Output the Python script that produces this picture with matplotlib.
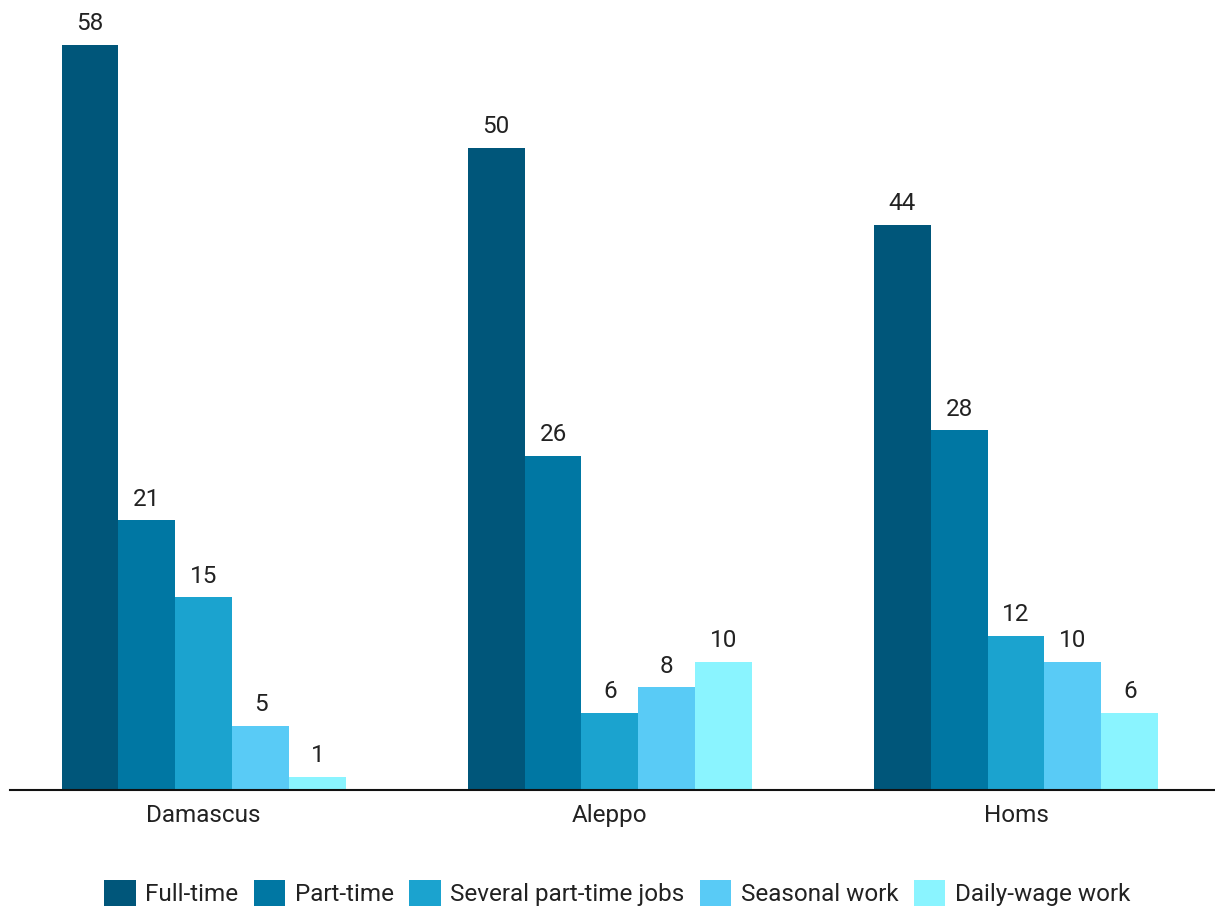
import numpy as np
import matplotlib.pyplot as plt

# Занятість за типом роботи у трьох містах (%)
cities = ['Damascus', 'Aleppo', 'Homs']
series = ['Full-time', 'Part-time', 'Several part-time jobs', 'Seasonal work', 'Daily-wage work']
full_time = [58, 50, 44]
part_time = [21, 26, 28]
several_jobs = [15, 6, 12]
seasonal = [5, 8, 10]
daily_wage = [1, 10, 6]
colors = ['#00567A', '#0077A3', '#1BA3CF', '#59CBF6', '#8AF4FF']

plt.rcParams['font.family'] = ['Roboto', 'DejaVu Sans']
FS = 17.5

fig = plt.figure(figsize=(12.15, 9.09), dpi=100)
ax = fig.add_axes([10 / 1215, 119 / 909, 1205 / 1215, 790 / 909])

values = [full_time, part_time, several_jobs, seasonal, daily_wage]
x = np.arange(len(cities))
width = 0.14

for i, (name, vals) in enumerate(zip(series, values)):
    pos = x + (i - 2) * width
    bars = ax.bar(pos, vals, width, color=colors[i], label=name)
    for b, v in zip(bars, vals):
        ax.annotate(str(v), (b.get_x() + b.get_width() / 2, v),
                    xytext=(0, 7), textcoords='offset points',
                    ha='center', va='bottom', fontsize=FS, color='#222222')

ax.set_xlim(-0.477, 2.49)
ax.set_ylim(0, 61.5)
ax.set_xticks(x)
ax.set_xticklabels(cities, fontsize=FS, color='#222222')
ax.tick_params(axis='x', length=0, pad=10)
ax.set_yticks([])
for s in ['top', 'right', 'left']:
    ax.spines[s].set_visible(False)
ax.spines['bottom'].set_linewidth(1.5)
ax.spines['bottom'].set_color('#111111')

fig.legend(loc='center', bbox_to_anchor=(0.508, 1 - 893 / 909), ncol=5,
           frameon=False, fontsize=FS, handlelength=1.3, handleheight=1.3,
           handletextpad=0.4, columnspacing=0.62, labelcolor='#222222')

fig.savefig('out.png', dpi=100)
